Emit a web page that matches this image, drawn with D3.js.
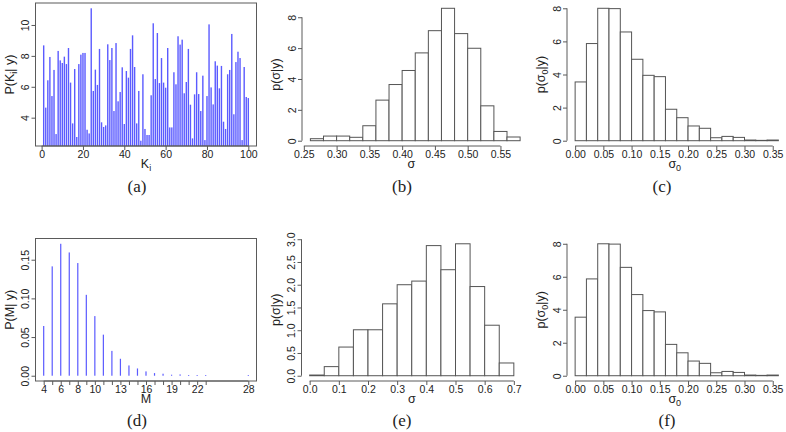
<!DOCTYPE html>
<html><head><meta charset="utf-8">
<script src="https://cdn.jsdelivr.net/npm/d3@7"></script>
<style>
html,body{margin:0;padding:0;background:#fff;}
svg{display:block;}
text{font-family:"Liberation Sans",Arial,Helvetica,sans-serif;fill:#222;}
text.cap{font-family:"Liberation Serif","Times New Roman",serif;}
</style></head><body>
<svg id="c" width="786" height="432"></svg>
<script>
// ---------- DATA ----------
// (a) posterior weight for each K_i, i = 1..100
const kIndex = d3.range(1, 101);
const kValues = [8.68,4.65,6.42,7.93,5.40,7.09,2.94,8.32,7.71,7.54,
  7.95,7.47,8.51,6.27,3.63,7.15,2.75,7.47,8.08,8.19,
  8.19,3.22,2.98,11.08,5.73,7.11,6.12,8.45,3.70,3.40,
  3.50,8.75,7.73,8.51,4.43,8.83,5.06,5.66,7.26,3.59,
  7.02,6.59,8.45,9.33,7.28,3.63,5.73,2.51,6.81,3.27,
  2.88,2.88,5.45,10.11,6.50,9.48,6.24,7.86,6.27,5.94,
  8.51,3.37,3.37,6.94,6.16,9.27,8.73,9.05,5.58,6.31,
  8.45,4.84,2.66,5.51,6.94,5.53,4.43,6.72,2.55,5.40,
  10.04,5.96,4.86,7.65,7.37,5.90,7.35,3.74,3.27,6.81,
  7.09,9.42,4.22,7.60,8.27,7.86,2.55,7.28,5.34,5.27];
const aXTicks = [0,20,40,60,80,100];
const aYTicks = [4,6,8,10];

// (b) histogram of sigma, bins of 0.02 starting at 0.26
const bBinStart = 0.26, bBinWidth = 0.02;
const bDensity = [0.13,0.30,0.30,0.22,0.97,2.63,3.64,4.55,5.69,7.13,8.58,6.94,5.99,2.26,0.60,0.24];
const bXTicks = [0.25,0.30,0.35,0.40,0.45,0.50,0.55];
const bYTicks = [0,2,4,6,8];

// (c) and (f) histogram of sigma_0, bins of 0.02 starting at 0
const cBinStart = 0, cBinWidth = 0.02;
const cDensity = [3.55,5.87,8.00,7.98,6.57,4.92,3.95,3.87,1.90,1.39,0.89,0.75,0.18,0.26,0.20,0.04,0.02,0.04];
const cXTicks = [0.00,0.05,0.10,0.15,0.20,0.25,0.30,0.35];
const cYTicks = [0,2,4,6,8];

// (d) posterior of M
const mValues = [4,5,6,7,8,9,10,11,12,13,14,15,16,17,18,19,20,21,22,23,28];
const mProbs  = [0.0643,0.1414,0.1706,0.1594,0.1457,0.1046,0.0771,0.0531,0.0321,0.0219,
  0.0133,0.0094,0.0056,0.0034,0.0026,0.0013,0.0017,0.0009,0.0009,0.0009,0.0009];
const dXLabels = [4,6,8,10,13,16,19,22,28];
const dYTicks = [0.00,0.05,0.10,0.15];

// (e) histogram of sigma, bins of 0.05 starting at 0
const eBinStart = 0, eBinWidth = 0.05;
const eDensity = [0.015,0.20,0.63,1.01,1.01,1.58,2.00,2.08,2.86,2.33,2.90,1.96,1.11,0.28];
const eXTicks = [0.0,0.1,0.2,0.3,0.4,0.5,0.6,0.7];
const eYTicks = [0.0,0.5,1.0,1.5,2.0,2.5,3.0];

// ---------- DRAWING ----------
const svg = d3.select("#c");
const AX = "#5a5a5a";
const BLUE = "#5b5bff";
const SANS = "Liberation Sans, Arial, sans-serif";
const TICK_FS = 10.5, TITLE_FS = 12.5;

function ext(lo, hi){ const d = (hi - lo) * 0.04; return [lo - d, hi + d]; }

function makePanel(p){
  const g = svg.append("g");
  const x = d3.scaleLinear().domain(p.xd).range([p.x0, p.x1]);
  const y = d3.scaleLinear().domain(p.yd).range([p.y1, p.y0]);
  const cid = "clip" + p.id;
  svg.append("clipPath").attr("id", cid).append("rect")
    .attr("x", p.x0).attr("y", p.y0).attr("width", p.x1 - p.x0).attr("height", p.y1 - p.y0);
  const plot = g.append("g").attr("clip-path", "url(#" + cid + ")");
  p.draw(plot, x, y);
  if (p.box) {
    g.append("rect").attr("x", p.x0).attr("y", p.y0).attr("width", p.x1 - p.x0).attr("height", p.y1 - p.y0)
      .attr("fill", "none").attr("stroke", AX).attr("stroke-width", 1);
  }
  // x axis
  const xa = g.append("g").attr("transform", "translate(0," + p.y1 + ")")
    .call(d3.axisBottom(x).tickValues(p.xTicks).tickFormat(p.xFmt).tickSize(4).tickPadding(1));
  xa.attr("font-family", SANS).attr("font-size", TICK_FS);
  xa.select(".domain").remove();
  xa.selectAll(".tick line").attr("stroke", AX);
  xa.selectAll(".tick text").attr("fill", "#222").attr("font-size", TICK_FS)
    .text(d => (p.xLabels && p.xLabels.indexOf(d) < 0) ? "" : p.xFmt(d));
  const xtv = p.xTicks;
  xa.append("line").attr("x1", x(xtv[0])).attr("x2", x(xtv[xtv.length - 1]))
    .attr("y1", 0).attr("y2", 0).attr("stroke", AX);
  // y axis
  const ya = g.append("g").attr("transform", "translate(" + p.x0 + ",0)")
    .call(d3.axisLeft(y).tickValues(p.yTicks).tickFormat(p.yFmt).tickSize(4));
  ya.attr("font-family", SANS).attr("font-size", TICK_FS);
  ya.select(".domain").remove();
  ya.selectAll(".tick line").attr("stroke", AX);
  ya.selectAll(".tick text").attr("fill", "#222").attr("font-size", TICK_FS)
    .attr("x", null).attr("dy", null).attr("text-anchor", "middle")
    .attr("transform", "translate(-6.5,0) rotate(-90)");
  const ytv = p.yTicks;
  ya.append("line").attr("y1", y(ytv[0])).attr("y2", y(ytv[ytv.length - 1]))
    .attr("x1", 0).attr("x2", 0).attr("stroke", AX);
  // axis titles
  const cx = (p.x0 + p.x1) / 2 + (p.titleDx || 0);
  const xt = g.append("text").attr("x", cx).attr("y", p.y1 + 22).attr("text-anchor", "middle").attr("font-size", TITLE_FS);
  p.xTitle(xt);
  const cy = (p.y0 + p.y1) / 2;
  const yt = g.append("text").attr("text-anchor", "middle").attr("font-size", TITLE_FS)
    .attr("transform", "translate(" + (p.x0 - 22) + "," + cy + ") rotate(-90)");
  p.yTitle(yt);
  g.append("text").attr("class", "cap").attr("x", p.capX).attr("y", p.capY)
    .attr("text-anchor", "middle").attr("font-size", 17).text(p.cap);
}

function sub(t, main, s, after){
  t.append("tspan").text(main);
  if (s) t.append("tspan").attr("font-size", 9).attr("dy", 3).text(s);
  if (after) t.append("tspan").attr("dy", s ? -3 : 0).text(after);
}

function histDraw(start, width, dens){
  return (plot, x, y) => {
    plot.selectAll("rect.bar").data(dens).join("rect").attr("class", "bar")
      .attr("x", (d, i) => x(start + i * width))
      .attr("width", (d, i) => x(start + (i + 1) * width) - x(start + i * width))
      .attr("y", d => y(d)).attr("height", d => y(0) - y(d))
      .attr("fill", "#fff").attr("stroke", "#555").attr("stroke-width", 1);
  };
}

const f2 = d3.format(".2f"), f1 = d3.format(".1f"), f0 = d3.format("d");

makePanel({
  id: "a", x0: 35.5, x1: 256.5, y0: 3, y1: 146, box: true,
  xd: ext(1, 100), yd: ext(d3.min(kValues), d3.max(kValues)),
  xTicks: aXTicks, xFmt: f0, yTicks: aYTicks, yFmt: f0,
  draw: (plot, x, y) => {
    plot.selectAll("rect").data(kValues).join("rect")
      .attr("x", (d, i) => x(kIndex[i]) - 0.7).attr("width", 1.4)
      .attr("y", d => y(d)).attr("height", d => y.range()[0] - y(d))
      .attr("fill", BLUE);
  },
  xTitle: t => sub(t, "K", "i"),
  yTitle: t => sub(t, "P(K", "i", "| y)"),
  cap: "(a)", capX: 137, capY: 192
});

makePanel({
  id: "b", x0: 302, x1: 528.5, y0: 3, y1: 146,
  xd: ext(bBinStart, bBinStart + bBinWidth * bDensity.length), yd: ext(0, d3.max(bDensity)),
  xTicks: bXTicks, xFmt: f2, yTicks: bYTicks, yFmt: f0,
  draw: histDraw(bBinStart, bBinWidth, bDensity),
  titleDx: -4,
  xTitle: t => t.text("σ"),
  yTitle: t => t.text("p(σ|y)"),
  cap: "(b)", capX: 402, capY: 192
});

makePanel({
  id: "c", x0: 567, x1: 786.5, y0: 3, y1: 146,
  xd: ext(cBinStart, cBinStart + cBinWidth * cDensity.length), yd: ext(0, d3.max(cDensity)),
  xTicks: cXTicks, xFmt: f2, yTicks: cYTicks, yFmt: f0,
  draw: histDraw(cBinStart, cBinWidth, cDensity),
  titleDx: -2,
  xTitle: t => sub(t, "σ", "0"),
  yTitle: t => sub(t, "p(σ", "0", "|y)"),
  cap: "(c)", capX: 662, capY: 192
});

makePanel({
  id: "d", x0: 35.5, x1: 256.5, y0: 238.5, y1: 381, box: true,
  xd: ext(d3.min(mValues), d3.max(mValues)), yd: ext(0, d3.max(mProbs)),
  xTicks: mValues, xLabels: dXLabels, xFmt: f0, yTicks: dYTicks, yFmt: f2,
  draw: (plot, x, y) => {
    plot.selectAll("rect").data(mProbs).join("rect")
      .attr("x", (d, i) => x(mValues[i]) - 0.6).attr("width", 1.2)
      .attr("y", d => y(d)).attr("height", d => Math.max(0.8, y(0) - y(d)))
      .attr("fill", BLUE);
  },
  xTitle: t => t.text("M"),
  yTitle: t => t.text("P(M| y)"),
  cap: "(d)", capX: 137, capY: 426
});

makePanel({
  id: "e", x0: 301.5, x1: 522, y0: 238.5, y1: 381,
  xd: ext(eBinStart, eBinStart + eBinWidth * eDensity.length), yd: ext(0, d3.max(eDensity)),
  xTicks: eXTicks, xFmt: f1, yTicks: eYTicks, yFmt: f1,
  draw: histDraw(eBinStart, eBinWidth, eDensity),
  xTitle: t => t.text("σ"),
  yTitle: t => t.text("p(σ|y)"),
  cap: "(e)", capX: 402, capY: 426
});

makePanel({
  id: "f", x0: 567, x1: 786.5, y0: 238.5, y1: 381,
  xd: ext(cBinStart, cBinStart + cBinWidth * cDensity.length), yd: ext(0, d3.max(cDensity)),
  xTicks: cXTicks, xFmt: f2, yTicks: cYTicks, yFmt: f0,
  draw: histDraw(cBinStart, cBinWidth, cDensity),
  titleDx: -2,
  xTitle: t => sub(t, "σ", "0"),
  yTitle: t => sub(t, "p(σ", "0", "|y)"),
  cap: "(f)", capX: 667, capY: 426
});
</script>
</body></html>
